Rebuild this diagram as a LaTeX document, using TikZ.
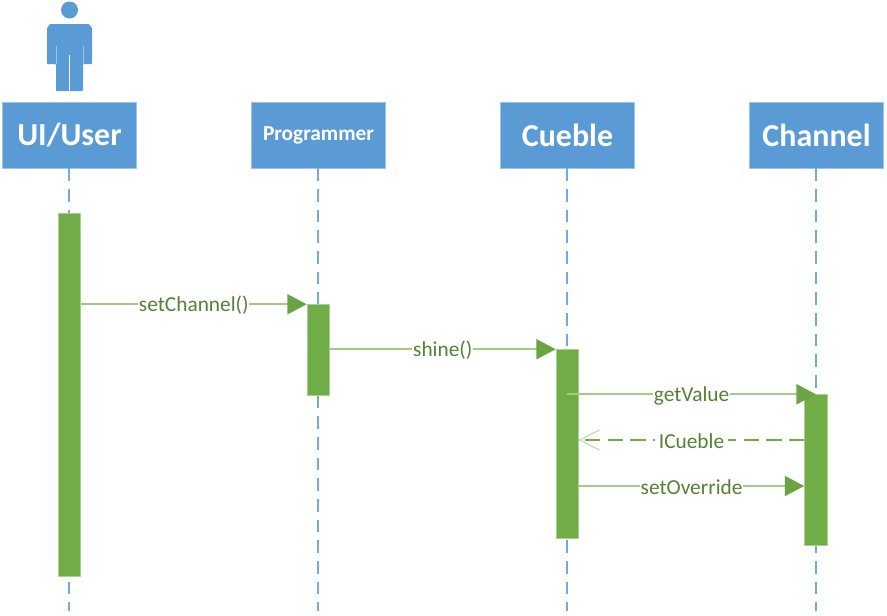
\documentclass[tikz,border=0pt]{standalone}
\usepackage{fontspec}
\setmainfont{Carlito}
\usetikzlibrary{arrows.meta}
\definecolor{hdrblue}{HTML}{5B9BD5}
\definecolor{hdredge}{HTML}{9DC3E6}
\definecolor{barfill}{HTML}{70AD47}
\definecolor{baredge}{HTML}{A9D18E}
\definecolor{msgline}{HTML}{A2CB85}
\definecolor{msgtext}{HTML}{548235}
\tikzset{
  actorbox/.style={draw=hdredge,fill=hdrblue,line width=0.5pt,minimum width=100.9pt,minimum height=49.5pt,inner sep=0pt,text=white,font=\bfseries},
  lifeline/.style={draw=hdrblue!85!white,line width=1.4pt,dash pattern=on 9.5pt off 6pt},
  actbar/.style={draw=baredge,fill=barfill,line width=0.4pt,minimum width=17pt,inner sep=0pt},
  msgarrow/.style={draw=msgline,line width=1.3pt,-{Triangle[length=14.5pt,width=15pt,fill=barfill!95!black,color=barfill!95!black]}},
  replyarrow/.style={draw=barfill,line width=1.2pt,dash pattern=on 11.5pt off 5.5pt,-{Straight Barb[length=15pt,width=15pt,line width=0.5pt,color=msgline]}},
  msglabel/.style={fill=white,inner xsep=0.6pt,inner ysep=0pt,yshift=-1pt,text=msgtext,font=\fontsize{16}{18}\selectfont}
}
\begin{document}
\begin{tikzpicture}[x=0.75pt,y=-0.75pt]
\useasboundingbox (0,0) rectangle (887,615);
% person figure
\fill[hdrblue] (69.5,10) circle (8.5);
\fill[hdrblue,rounded corners=0.6pt] (50,24) -- (89,24) -- (92,28) -- (92,64) -- (83,64) -- (83,91) -- (56,91) -- (56,64) -- (47,64) -- (47,28) -- cycle;
\draw[white,line width=0.7pt] (69.5,55) -- (69.5,91);
\draw[hdredge,line width=0.5pt] (56,46) -- (56,64) (83,46) -- (83,64);
% actors
\node[actorbox,font=\bfseries\fontsize{24}{26}\selectfont] (ui) at (69.5,135) {UI/User};
\node[actorbox,font=\bfseries\fontsize{16}{18}\selectfont,text height=11.5pt,text depth=3.5pt] (prog) at (318.5,135) {Programmer};
\node[actorbox,font=\bfseries\fontsize{24}{26}\selectfont] (cue) at (567.5,135) {Cueble};
\node[actorbox,font=\bfseries\fontsize{24}{26}\selectfont] (chan) at (816.5,135) {Channel};
% lifeline ends
\coordinate (uiend) at (69.2,611);
\coordinate (progend) at (318.2,611);
\coordinate (cueend) at (567.2,611);
\coordinate (chanend) at (816,611);
\draw[lifeline] (ui.south -| uiend) -- (uiend);
\draw[lifeline] (prog.south -| progend) -- (progend);
\draw[lifeline] (cue.south -| cueend) -- (cueend);
\draw[lifeline] (chan.south -| chanend) -- (chanend);
% activation bars
\node[actbar,minimum height=272.25pt] (uibar) at (69.3,395) {};
\node[actbar,minimum height=68.25pt] (progbar) at (318.3,350) {};
\node[actbar,minimum height=141.75pt] (cuebar) at (567.3,444) {};
\node[actbar,minimum height=113.25pt] (chanbar) at (815.8,470) {};
% messages
\coordinate (replyy) at (0,440);
\coordinate (overy) at (0,486);
\draw[msgarrow] (uibar.east |- progbar.north) -- node[msglabel] {setChannel()} (progbar.north west);
\draw[msgarrow] (progbar.east |- cuebar.north) -- node[msglabel] {shine()} (cuebar.north west);
\draw[msgarrow] (cuebar.center |- chanbar.north) -- node[msglabel] {getValue} (chanbar.north);
\draw[replyarrow] (chanbar.west |- replyy) -- node[msglabel,inner xsep=3pt] {ICueble} (cuebar.east |- replyy);
\draw[msgarrow] (cuebar.east |- overy) -- node[msglabel] {setOverride} (chanbar.west |- overy);
\end{tikzpicture}
\end{document}
